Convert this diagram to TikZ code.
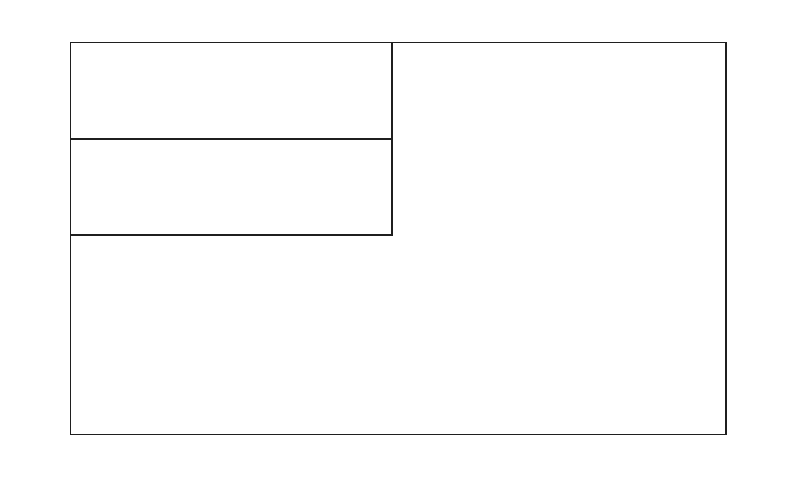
\documentclass[tikz,border=0pt]{standalone}
\begin{document}
\begin{tikzpicture}[x=1pt,y=-1pt,box/.style={draw=black!88,line width=1.6pt}]
\useasboundingbox (0,0) rectangle (800,480);
\draw[box] (70.5,42.5) rectangle (726,434.5);
\draw[box] (70.5,42.5) rectangle (392,139);
\draw[box] (70.5,139) rectangle (392,235);
\end{tikzpicture}
\end{document}
